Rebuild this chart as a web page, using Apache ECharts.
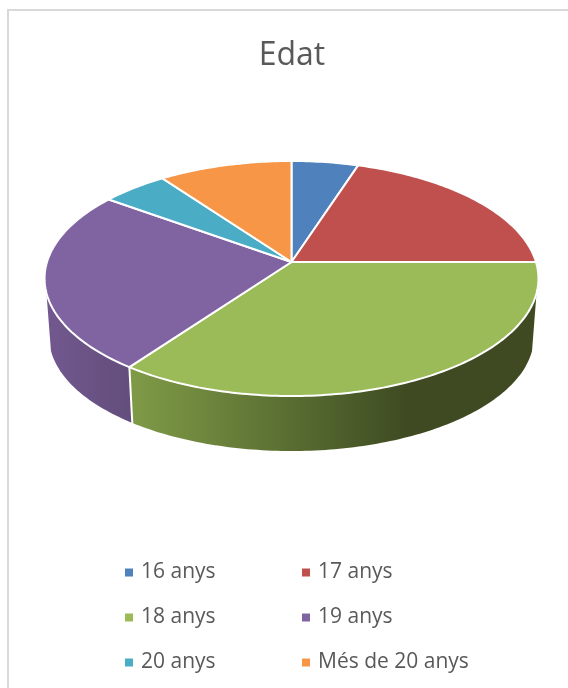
<!DOCTYPE html>
<html>
<head>
<meta charset="utf-8">
<style>html,body{margin:0;padding:0;background:#fff}#c{width:568px;height:688px}</style>
<script src="https://cdn.jsdelivr.net/npm/echarts@6/dist/echarts.min.js"></script>
</head>
<body>
<div id="c"></div>
<script>
var categories = ['16 anys', '17 anys', '18 anys', '19 anys', '20 anys', 'Més de 20 anys'];
var values = [5, 20, 35, 25, 5, 10];
var colors = ['#4f81bd', '#c0504d', '#9bbb59', '#8064a2', '#4bacc6', '#f79646'];
var wallColors = [
  ['#3f5f8a', '#3f5f8a'], ['#8f3c3a', '#8f3c3a'],
  ['#809b47', '#6f883e', '#4a5b29', '#3f4a22', '#3f4a22'],
  ['#72588f', '#634e7c'], ['#38808f', '#38808f'], ['#b87034', '#b87034']
];
var legendPos = [[125, 562], [302, 562], [125, 607], [302, 607], [125, 652], [302, 652]];

// Perspective disc geometry
var cx = 291.5, cy = 262, A = 244.5, B = 115.2, k = 0.1405;
var lowA = 240, lowB = 112, lowCy = 320.7, visV = 0.26;
var total = values.reduce(function (a, b) { return a + b; }, 0);
var D2R = Math.PI / 180;

function rimPoint(deg, a, b, y0) {
  var u = Math.sin(deg * D2R), v = -Math.cos(deg * D2R), w = 1 - k * v;
  return [cx + a * u / w, y0 + b * v / w];
}
function arc(from, to, a, b, y0) {
  var pts = [], n = Math.max(2, Math.ceil(Math.abs(to - from)));
  for (var i = 0; i <= n; i++) pts.push(rimPoint(from + (to - from) * i / n, a, b, y0));
  return pts;
}
function startAngle(i) {
  var s = 0;
  for (var j = 0; j < i; j++) s += values[j];
  return s / total * 360;
}
var wallFrom = Math.acos(-visV) / D2R, wallTo = 360 - wallFrom;

function renderer(i) {
  return function () {
    var a0 = startAngle(i), a1 = a0 + values[i] / total * 360;
    var children = [];
    var s = Math.max(a0, wallFrom), e = Math.min(a1, wallTo);
    if (s < e) {
      var top = arc(s, e, A, B, cy), low = arc(e, s, lowA, lowB, lowCy);
      var x0 = rimPoint(s, A, B, cy)[0], x1 = rimPoint(e, A, B, cy)[0];
      var stops = wallColors[i], lo = Math.min(x0, x1), hi = Math.max(x0, x1);
      children.push({
        type: 'polygon', z2: 1, shape: { points: top.concat(low) },
        style: {
          fill: {
            type: 'linear', global: true, x: lo, y: 0, x2: hi, y2: 0,
            colorStops: stops.map(function (c, n) { return { offset: stops.length === 5 ? [0, 0.17, 0.55, 0.68, 1][n] : n / (stops.length - 1), color: c }; })
          }
        }
      });
      if (a0 >= wallFrom && a0 <= wallTo) {
        children.push({
          type: 'line', z2: 2,
          shape: { x1: rimPoint(a0, A, B, cy)[0], y1: rimPoint(a0, A, B, cy)[1], x2: rimPoint(a0, lowA, lowB, lowCy)[0], y2: rimPoint(a0, lowA, lowB, lowCy)[1] + 1 },
          style: { stroke: '#fff', lineWidth: 2 }
        });
      }
    }
    children.push({
      type: 'polygon', z2: 10,
      shape: { points: [[cx, cy]].concat(arc(a0, a1, A, B, cy)) },
      style: { fill: colors[i], stroke: '#fff', lineWidth: 2, lineJoin: 'round' }
    });
    return { type: 'group', children: children };
  };
}

var chart = echarts.init(document.getElementById('c'), null, { renderer: 'canvas' });
chart.setOption({
  animation: false,
  backgroundColor: '#fff',
  graphic: [{
    type: 'rect', silent: true, z: 0,
    shape: { x: 8, y: 10, width: 800, height: 900 },
    style: { fill: 'none', stroke: '#d9d9d9', lineWidth: 2 }
  }],
  title: {
    text: 'Edat', left: 287, top: 35, textAlign: 'center',
    textStyle: { fontFamily: 'Open Sans', fontSize: 32, fontWeight: 'normal', color: '#595959' }
  },
  legend: categories.map(function (name, i) {
    return {
      data: [name], left: legendPos[i][0], top: legendPos[i][1], orient: 'horizontal',
      padding: 0, itemWidth: 8, itemHeight: 8, icon: 'rect', selectedMode: false,
      textStyle: { fontFamily: 'Open Sans', fontSize: 21, color: '#595959', padding: [3, 0, 0, 3] }
    };
  }),
  series: categories.map(function (name, i) {
    return {
      type: 'custom', name: name, coordinateSystem: 'none', silent: true,
      itemStyle: { color: colors[i] },
      data: [values[i]],
      renderItem: renderer(i)
    };
  })
});
</script>
</body>
</html>
